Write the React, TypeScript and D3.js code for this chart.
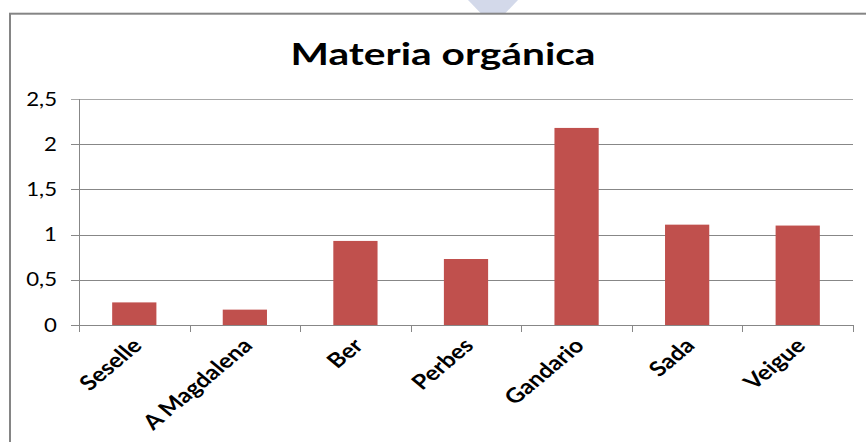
import React from "react";
import * as d3 from "d3";

// Organic matter content per sampling site
const sites: string[] = ["Seselle", "A Magdalena", "Ber", "Perbes", "Gandario", "Sada", "Veigue"];
const organicMatter: number[] = [0.25, 0.17, 0.93, 0.73, 2.18, 1.11, 1.1];
const yTicks: number[] = [0, 0.5, 1, 1.5, 2, 2.5];
const yTickLabels: string[] = ["0", "0,5", "1", "1,5", "2", "2,5"];
const title = "Materia orgánica";

const W = 866;
const H = 442;
const plot = { left: 79, right: 853, top: 99, bottom: 325 };
const FONT = "Lato, 'Open Sans', sans-serif";
const SX = 1.2; // horizontal widening of the lettering
const axisColor = "#878787";
const barColor = "#c0504d";

export default function App() {
  const x = d3
    .scaleBand<string>()
    .domain(sites)
    .range([plot.left, plot.right])
    .paddingInner(0.6)
    .paddingOuter(0.3);
  const y = d3.scaleLinear().domain([0, 2.5]).range([plot.bottom, plot.top]);
  const step = x.step();
  const boundaries = d3.range(sites.length + 1).map((i) => plot.left + i * step);

  return (
    <svg
      width={W}
      height={H}
      style={{ position: "absolute", left: 0, top: 0, background: "#fff" }}
    >
      {/* shape peeking out above the chart frame */}
      <polygon points="468,0 518,0 493,26" fill="#d3d9ea" />
      {/* chart frame */}
      <rect x={10} y={13.7} width={W + 20} height={H + 20} fill="#fff" stroke="#858585" strokeWidth={2} />

      <text
        transform="translate(443,65)"
        textAnchor="middle"
        fontFamily={FONT}
        fontWeight="bold"
        fontSize={31}
        textLength={305}
        lengthAdjust="spacingAndGlyphs"
        fill="#000"
      >
        {title}
      </text>

      {/* horizontal gridlines and y ticks */}
      {yTicks.map((t, i) => (
        <g key={t}>
          <line
            x1={plot.left - 8}
            x2={t === 0 ? plot.left : plot.right}
            y1={Math.round(y(t)) + 0.5}
            y2={Math.round(y(t)) + 0.5}
            stroke={i === yTicks.length - 1 ? "#a8a8a8" : axisColor}
            strokeWidth={1}
          />
          <text
            transform={`translate(57,${y(t)}) scale(${SX},1)`}
            textAnchor="end"
            dy="0.36em"
            fontFamily={FONT}
            fontSize={18.5}
            fill="#000"
          >
            {yTickLabels[i]}
          </text>
        </g>
      ))}

      {/* bars */}
      {sites.map((s, i) => (
        <rect
          key={s}
          x={x(s)}
          y={y(organicMatter[i])}
          width={x.bandwidth()}
          height={y(0) - y(organicMatter[i])}
          fill={barColor}
        />
      ))}

      {/* axes */}
      <line x1={plot.left + 0.5} x2={plot.left + 0.5} y1={plot.top} y2={plot.bottom + 7} stroke={axisColor} />
      <line x1={plot.left} x2={plot.right} y1={plot.bottom + 0.5} y2={plot.bottom + 0.5} stroke={axisColor} />
      {boundaries.map((bx, i) => (
        <line
          key={i}
          x1={Math.round(bx) + 0.5}
          x2={Math.round(bx) + 0.5}
          y1={plot.bottom}
          y2={plot.bottom + 7}
          stroke={axisColor}
        />
      ))}

      {/* category labels */}
      {sites.map((s) => {
        const cx = (x(s) ?? 0) + x.bandwidth() / 2;
        return (
          <text
            key={s}
            transform={`translate(${cx + 9},347) scale(${SX},1) rotate(-45)`}
            textAnchor="end"
            fontFamily={FONT}
            fontWeight="bold"
            fontSize={20.5}
            fill="#000"
          >
            {s}
          </text>
        );
      })}
    </svg>
  );
}
